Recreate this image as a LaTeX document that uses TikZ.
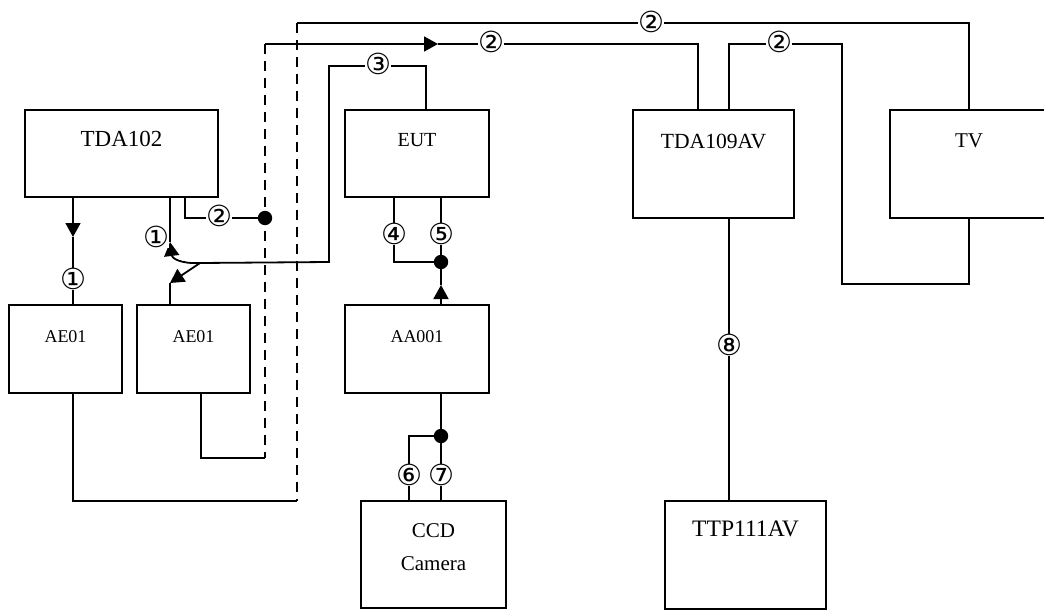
\documentclass[tikz,border=0pt]{standalone}
\usepackage{fontspec}
\setmainfont{Liberation Serif}
\newfontfamily\circfont{DejaVu Sans}
\usetikzlibrary{arrows.meta}
\usetikzlibrary{positioning}
\usetikzlibrary{calc}

\tikzset{
  box/.style={draw, inner sep=0pt},
  num/.style={font=\circfont\fontsize{14.5}{14.5}\selectfont, fill=white, inner sep=0pt},
  dashline/.style={dash pattern=on 5pt off 3.5pt},
  lbl/.style={font=\fontsize{#1}{#1}\selectfont}
}

\begin{document}
\begin{tikzpicture}[x=0.5pt, y=-0.5pt, line width=0.9pt, >={Triangle[length=7pt,width=7.5pt]}]
\useasboundingbox (0,0) rectangle (1044,610);
\clip (0,0) rectangle (1044,610);

%boxes
\node[box, minimum width=96.5pt, minimum height=43.5pt] (tda102) at (121.5,153.5) {};
\node[box, minimum width=56.5pt, minimum height=44pt] (ae1) at (65.5,349) {};
\node[box, minimum width=56.5pt, minimum height=44pt] (ae2) at (193.5,349) {};
\node[box, minimum width=72pt, minimum height=43.5pt] (eut) at (417,153.5) {};
\node[box, minimum width=72pt, minimum height=44pt] (aa001) at (417,349) {};
\node[box, minimum width=72.5pt, minimum height=53.5pt] (ccd) at (433.5,554.5) {};
\node[box, minimum width=80.5pt, minimum height=54pt] (tda109) at (713.5,164) {};
\node[box, minimum width=79pt, minimum height=54pt] (tv) at (969,164) {};
\node[box, minimum width=80.5pt, minimum height=54pt] (ttp) at (745.5,555) {};

\node[lbl=11.5] at ([yshift=-15pt]tda102.north) {TDA102};
\node[lbl=9] at ([yshift=-16.5pt]ae1.north) {AE01};
\node[lbl=9] at ([yshift=-16.5pt]ae2.north) {AE01};
\node[lbl=10] at ([yshift=-15.5pt]eut.north) {EUT};
\node[lbl=9] at ([yshift=-16.5pt]aa001.north) {AA001};
\node[lbl=10.5] at ([yshift=-15.5pt]ccd.north) {CCD};
\node[lbl=10.5] at ([yshift=-32pt]ccd.north) {Camera};
\node[lbl=10.8] at ([yshift=-16pt]tda109.north) {TDA109AV};
\node[lbl=10.5] at ([yshift=-16pt]tv.north) {TV};
\node[lbl=11.8] at ([yshift=-14.5pt]ttp.north) {TTP111AV};

%TDA102 to AE01
\coordinate (t1) at (73,237);
\draw[->] (tda102.south -| t1) -- (t1);
\draw (t1) -- (ae1.north -| t1);
\node[num] at (73,279) {①};

%TDA102, AE01 and EUT
\coordinate (sp) at (200,263);
\coordinate (t2) at (170,242);
\coordinate (t3) at (170,283);
\coordinate (e3) at (426,66);
\coordinate (e4) at (329,66);
\coordinate (e5) at (329,262);
\draw (tda102.south -| t2) -- (t2);
\draw[->] (sp) .. controls (180,264) and (172,258) .. (t2);
\draw[->] (sp) -- (t3);
\draw (t3) -- (ae2.north -| t3);
\draw (eut.north -| e3) -- (e3) -- (e4) -- (e5) -- (sp);
\node[num] at (156,237) {①};
\node[num] at (378,64) {③};

%TDA102 to TDA109AV
\coordinate (t4) at (185,218);
\coordinate (d1) at (265,218);
\coordinate (k1) at (265,44);
\coordinate (k2) at (265,458);
\coordinate (b2) at (201,458);
\coordinate (r1) at (438,44);
\coordinate (r2) at (698,44);
\draw (tda102.south -| t4) -- (t4) -- (d1);
\draw[dashline] (k1) -- (k2);
\draw (ae2.south -| b2) -- (b2) -- (k2);
\draw[->] (k1) -- (r1);
\draw (r1) -- (r2) -- (tda109.north -| r2);
\fill (d1) circle[radius=3.6pt];
\node[num] at (219,216) {②};
\node[num] at (491,42) {②};

%AE01 to TV
\coordinate (k3) at (297,23);
\coordinate (k4) at (297,501);
\coordinate (b1) at (73,501);
\draw[dashline] (k3) -- (k4);
\draw (ae1.south -| b1) -- (b1) -- (k4);
\draw (k3) -- (k3 -| tv.north) -- (tv.north);
\node[num] at (651,22) {②};

%TDA109AV to TV
\coordinate (r4) at (729,44);
\coordinate (r5) at (842,44);
\coordinate (r6) at (842,284);
\draw (tda109.north -| r4) -- (r4) -- (r5) -- (r6) -- (r6 -| tv.south) -- (tv.south);
\node[num] at (779,42) {②};

%TDA109AV to TTP111AV
\coordinate (r7) at (729,345);
\draw (tda109.south -| r7) -- (ttp.north -| r7);
\node[num] at (r7) {⑧};

%EUT and AA001
\coordinate (dB) at (441,262);
\coordinate (c4) at (394,262);
\coordinate (u1) at (441,285);
\draw (eut.south -| c4) -- (c4) -- (dB);
\draw (eut.south -| dB) -- (dB);
\draw[->] (aa001.north -| u1) -- (u1);
\draw (u1) -- (dB);
\fill (dB) circle[radius=3.6pt];
\node[num] at (394,234) {④};
\node[num] at (441,234) {⑤};

%AA001 and CCD
\coordinate (dC) at (441,436);
\coordinate (c6) at (409,436);
\draw (aa001.south -| dC) -- (dC) -- (ccd.north -| dC);
\draw (dC) -- (c6) -- (ccd.north -| c6);
\fill (dC) circle[radius=3.6pt];
\node[num] at (409,475) {⑥};
\node[num] at (441,475) {⑦};
\end{tikzpicture}
\end{document}
